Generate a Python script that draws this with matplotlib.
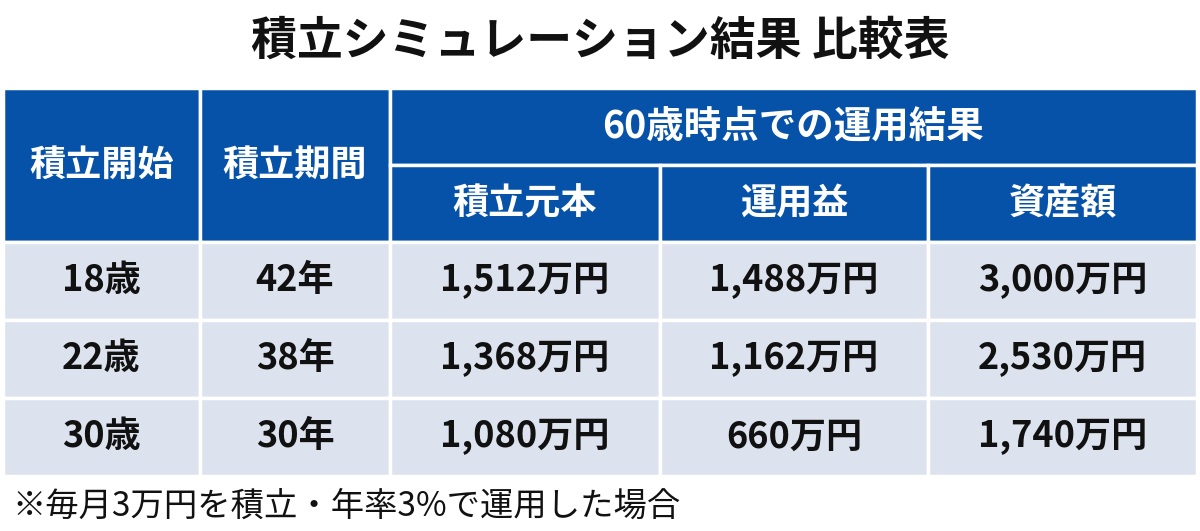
import matplotlib.pyplot as plt
from matplotlib.patches import Rectangle

plt.rcParams['font.family'] = ['Noto Sans CJK JP', 'DejaVu Sans']

title = '積立シミュレーション結果 比較表'
header_top = ['積立開始', '積立期間', '60歳時点での運用結果']
header_sub = ['積立元本', '運用益', '資産額']
start_ages = ['18歳', '22歳', '30歳']
periods = ['42年', '38年', '30年']
principal = ['1,512万円', '1,368万円', '1,080万円']
gains = ['1,488万円', '1,162万円', '660万円']
totals = ['3,000万円', '2,530万円', '1,740万円']
note = '※毎月3万円を積立・年率3%で運用した場合'

blue = '#0652a8'
light = '#dde3ee'
fs = 26

fig = plt.figure(figsize=(12, 5.31), dpi=100)
ax = fig.add_axes([0, 0, 1, 1])
ax.set_xlim(0, 1200)
ax.set_ylim(531, 0)
ax.axis('off')

cols = [3, 200, 390, 660, 928, 1197]
rows = [88, 165, 242, 320, 398, 476]

def cell(x0, x1, y0, y1, color, text, tc, size=fs):
    ax.add_patch(Rectangle((x0, y0), x1 - x0, y1 - y0, facecolor=color,
                           edgecolor='white', linewidth=2.5))
    ax.text((x0 + x1) / 2, (y0 + y1) / 2, text, ha='center', va='center',
            fontsize=size, fontweight='bold', color=tc)

ax.text(600, 42, title, ha='center', va='center', fontsize=33,
        fontweight='bold', color='#111111')

cell(cols[0], cols[1], rows[0], rows[2], blue, header_top[0], 'white')
cell(cols[1], cols[2], rows[0], rows[2], blue, header_top[1], 'white')
cell(cols[2], cols[5], rows[0], rows[1], blue, header_top[2], 'white', 27)
for i, h in enumerate(header_sub):
    cell(cols[2 + i], cols[3 + i], rows[1], rows[2], blue, h, 'white')

for r, vals in enumerate(zip(start_ages, periods, principal, gains, totals)):
    for c, v in enumerate(vals):
        cell(cols[c], cols[c + 1], rows[2 + r], rows[3 + r], light, v, '#111111')

ax.text(12, 506, note, ha='left', va='center', fontsize=24, color='#111111')

fig.savefig('out.png', dpi=100)
